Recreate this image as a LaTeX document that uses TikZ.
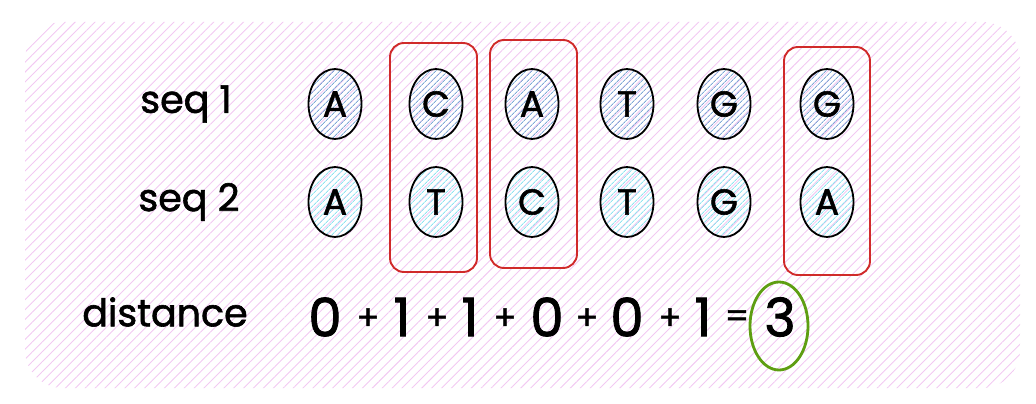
\documentclass[tikz,border=0pt]{standalone}
\usepackage{fontspec}
\setmainfont{Poppins}[BoldFont = Poppins, BoldFeatures = {FakeBold = 1.6}]
\usetikzlibrary{patterns.meta,shapes.geometric}

\definecolor{hatchpink}{HTML}{F2C9F2}
\definecolor{seqone}{HTML}{7FA8D6}
\definecolor{seqtwo}{HTML}{8FE3F0}
\definecolor{boxred}{HTML}{D02A2A}
\definecolor{okgreen}{HTML}{5E9E12}

\tikzset{
    base/.style = {ellipse, draw = black, line width = 1.8pt,
        minimum width = 53pt, minimum height = 70pt, inner sep = 0pt,
        font = \fontsize{36}{40}\selectfont\bfseries},
    baseone/.style = {base, pattern = {Lines[angle=45, distance=4pt, line width=.9pt]},
        pattern color = seqone},
    basetwo/.style = {base, pattern = {Lines[angle=45, distance=4pt, line width=.9pt]},
        pattern color = seqtwo},
    mismatch/.style = {draw = boxred, line width = 1.9pt, rounded corners = 14pt},
    rowlabel/.style = {font = \fontsize{38}{42}\selectfont\bfseries},
    term/.style = {font = \fontsize{53}{58}\selectfont\bfseries, inner sep = 0pt},
    op/.style = {font = \fontsize{34}{38}\selectfont\bfseries, inner sep = 0pt}
}

\begin{document}
\begin{tikzpicture}[x = 1pt, y = -1pt]
    \useasboundingbox (0,0) rectangle (1036,404);

    % background card
    \fill[pattern = {Lines[angle=45, distance=7pt, line width=.9pt]}, pattern color = hatchpink,
        rounded corners = 38pt] (25,22) rectangle (1020,388);

    % mismatch boxes
    \draw[mismatch] (390,43) rectangle (477,272);
    \draw[mismatch] (490,40) rectangle (577,268);
    \draw[mismatch] (784,47) rectangle (870,275);

    % row labels
    \node[rowlabel] (lblone) at (186,104) {seq 1};
    \node[rowlabel] (lbltwo) at (189,202) {seq 2};
    \node[rowlabel] (lbldist) at (165,312) {distance};

    % bases
    \foreach \x/\a/\b [count=\i] in {335/A/A, 436/C/T, 532/A/C, 627/T/T, 724/G/G, 827/G/A}
    {
        \node[baseone] (one\i) at (\x,104) {\a};
        \node[basetwo] (two\i) at (\x,202) {\b};
    }

    % distance sum
    \node[term] (d1) at (325,317) {0};
    \node[op]   (p1) at (368,319) {+};
    \node[term] (d2) at (402,317) {1};
    \node[op]   (p2) at (437,319) {+};
    \node[term] (d3) at (470,317) {1};
    \node[op]   (p3) at (505,319) {+};
    \node[term] (d4) at (547,317) {0};
    \node[op]   (p4) at (587,319) {+};
    \node[term] (d5) at (627,317) {0};
    \node[op]   (p5) at (670,319) {+};
    \node[term] (d6) at (703,317) {1};
    \node[op]   (eq) at (737,319) {=};
    \node[term] (res) at (780,317) {3};
    \draw[okgreen, line width = 2.8pt] (779,326) ellipse (29pt and 44pt);
\end{tikzpicture}
\end{document}
